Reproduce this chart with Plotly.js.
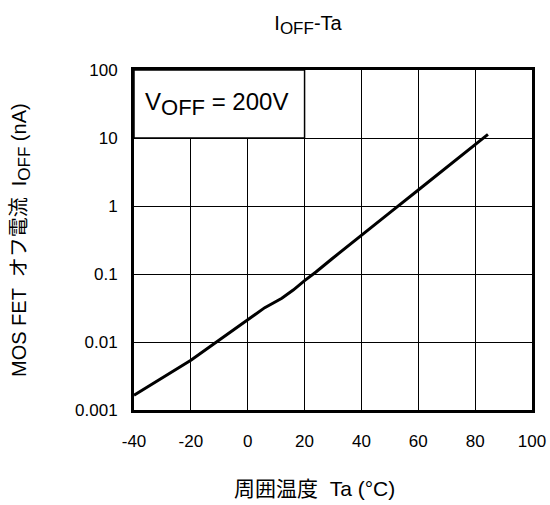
<!DOCTYPE html>
<html>
<head>
<meta charset="utf-8">
<script src="https://cdn.plot.ly/plotly-3.0.1.min.js"></script>
<style>html,body{margin:0;padding:0;background:#fff;}#chart{width:550px;height:505px;}</style>
</head>
<body>
<div id="chart"></div>
<script>
// Ambient temperature Ta (°C)
const temperature = [-40, -30, -20, -10, 0, 6, 12, 16, 20, 24, 30, 40, 50, 60, 70, 80, 84.5];
// MOS FET off-state current IOFF (nA) at VOFF = 200V
const offCurrent = [0.00165, 0.0030, 0.0054, 0.0107, 0.021, 0.032, 0.044, 0.058, 0.08, 0.107, 0.172, 0.375, 0.80, 1.72, 3.7, 7.9, 11.3];
const xTicks = [-40, -20, 0, 20, 40, 60, 80, 100];
const yTicks = [0.001, 0.01, 0.1, 1, 10, 100];
const yTickLabels = ['0.001', '0.01', '0.1', '1', '10', '100'];

const font = 'Liberation Sans, Arial, Noto Sans CJK JP, sans-serif';
const sub = (t, px) => '<sub><span style="font-size:' + px + 'px">' + t + '</span></sub>';

const trace = {
  x: temperature,
  y: offCurrent,
  type: 'scatter',
  mode: 'lines',
  line: {color: '#000', width: 3},
  hoverinfo: 'skip'
};

const layout = {
  width: 550,
  height: 505,
  margin: {l: 134, r: 18, t: 70, b: 95},
  paper_bgcolor: '#fff',
  plot_bgcolor: '#fff',
  font: {family: font, size: 17, color: '#000'},
  showlegend: false,
  title: {
    text: 'I' + sub('OFF', 17) + '-Ta',
    x: 0.56, xanchor: 'center',
    y: 0.955, yanchor: 'middle',
    font: {family: font, size: 20, color: '#000'}
  },
  xaxis: {
    range: [-40, 100],
    tickmode: 'array',
    tickvals: xTicks,
    ticktext: xTicks.map(String),
    ticks: '',
    ticklabelstandoff: 14,
    showgrid: true,
    gridcolor: '#000',
    gridwidth: 1,
    zeroline: false,
    showline: true,
    linecolor: '#000',
    linewidth: 3,
    mirror: true,
    tickfont: {family: font, size: 17, color: '#000'},
    fixedrange: true
  },
  yaxis: {
    type: 'log',
    range: [-3, 2],
    tickmode: 'array',
    tickvals: yTicks,
    ticktext: yTickLabels,
    ticks: '',
    ticklabelstandoff: 10,
    showgrid: true,
    gridcolor: '#000',
    gridwidth: 1,
    zeroline: false,
    showline: true,
    linecolor: '#000',
    linewidth: 3,
    mirror: true,
    tickfont: {family: font, size: 17, color: '#000'},
    fixedrange: true
  },
  shapes: [{
    type: 'rect',
    xref: 'x', yref: 'y domain',
    x0: -40, x1: 20, y0: 0.8, y1: 1,
    line: {color: '#000', width: 1.5},
    fillcolor: '#fff',
    layer: 'above'
  }],
  annotations: [{
    xref: 'x', yref: 'y domain',
    x: -37, y: 0.9,
    xanchor: 'left', yanchor: 'middle',
    text: 'V' + sub('OFF', 22) + ' = 200V',
    showarrow: false,
    font: {family: font, size: 24, color: '#000'}
  }, {
    // x-axis title
    xref: 'paper', yref: 'paper',
    x: 314, y: 488, xanchor: 'center', yanchor: 'middle',
    text: '周囲温度  Ta (°C)',
    showarrow: false,
    font: {family: font, size: 21, color: '#000'}
  }, {
    // y-axis title
    xref: 'paper', yref: 'paper',
    x: 21, y: 240, xanchor: 'center', yanchor: 'middle',
    textangle: -90,
    text: 'MOS FET  オフ電流  I' + sub('OFF', 17) + ' (nA)',
    showarrow: false,
    font: {family: font, size: 20, color: '#000'}
  }]
};

// convert pixel positions of the axis-title annotations into paper fractions
const plotW = layout.width - layout.margin.l - layout.margin.r;
const plotH = layout.height - layout.margin.t - layout.margin.b;
layout.annotations.slice(1).forEach(a => {
  a.x = (a.x - layout.margin.l) / plotW;
  a.y = (layout.height - layout.margin.b - a.y) / plotH;
});

Plotly.newPlot('chart', [trace], layout, {displayModeBar: false, staticPlot: true});
</script>
</body>
</html>
